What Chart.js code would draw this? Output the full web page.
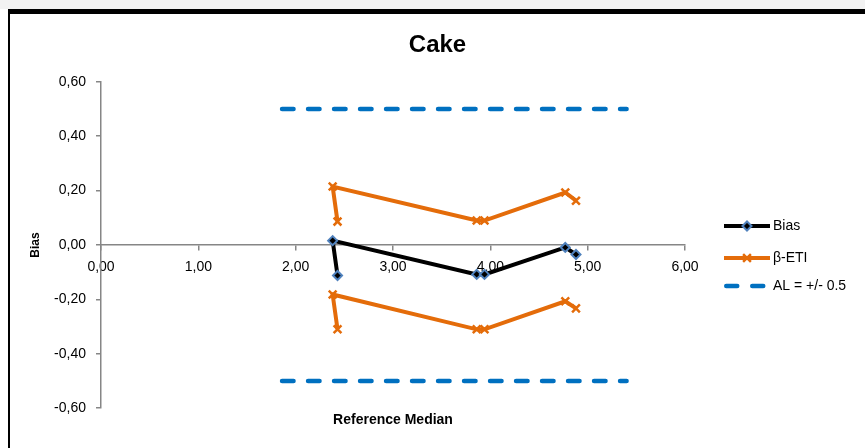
<!DOCTYPE html>
<html>
<head>
<meta charset="utf-8">
<script src="https://cdn.jsdelivr.net/npm/chart.js@4.4.1/dist/chart.umd.min.js"></script>
<style>
html, body { margin: 0; padding: 0; background: #fff; }
#wrap { width: 865px; height: 448px; }
</style>
</head>
<body>
<div id="wrap"><canvas id="chart" width="865" height="448"></canvas></div>
<script>
// values
var refMedian = [2.43, 2.38, 3.86, 3.94, 4.77, 4.88];
var bias = [-0.112, 0.016, -0.108, -0.108, -0.009, -0.035];
var etiUpper = [0.086, 0.215, 0.090, 0.090, 0.193, 0.163];
var etiLower = [-0.310, -0.182, -0.310, -0.310, -0.207, -0.233];
var limitX = [1.86, 5.40];
var limitUpper = [0.5, 0.5];
var limitLower = [-0.5, -0.5];
var xTicks = [0, 1, 2, 3, 4, 5, 6];
var yTicks = [-0.6, -0.4, -0.2, 0, 0.2, 0.4, 0.6];

var FONT = "'Liberation Sans', Arial, sans-serif";
var AXIS = '#868686';

function points(xs, ys) {
    return xs.map(function (x, i) { return { x: x, y: ys[i] }; });
}
function comma(v) {
    return Number(v).toFixed(2).replace('.', ',');
}

// frame + custom legend (Excel style line-with-marker samples)
var frame = {
    id: 'frame',
    beforeDraw: function (chart) {
        var c = chart.ctx;
        c.save();
        c.fillStyle = '#fff';
        c.fillRect(0, 0, chart.width, chart.height);
        c.fillStyle = '#f2f2f2';
        c.fillRect(0, 0, chart.width, 9);
        c.fillStyle = '#000';
        c.fillRect(8, 9, chart.width - 8, 5);
        c.fillRect(8, 9, 2, chart.height - 9);
        c.restore();
    },
    afterDraw: function (chart) {
        var c = chart.ctx;
        var rows = [226, 258, 286];
        var x0 = 724, x1 = 770;
        var shown = chart.data.datasets.filter(function (d) { return !d.noLegend; });
        c.save();
        shown.forEach(function (ds, i) {
            var y = rows[i];
            var cap = ds.borderCapStyle || 'butt';
            var inset = cap === 'round' ? ds.borderWidth / 2 : 0;
            c.beginPath();
            c.strokeStyle = ds.borderColor;
            c.lineWidth = ds.borderWidth;
            c.lineCap = cap;
            c.setLineDash(ds.legendDash || []);
            c.moveTo(x0 + inset, y);
            c.lineTo(x1 - inset, y);
            c.stroke();
            c.setLineDash([]);
            if (ds.pointRadius > 0) {
                c.fillStyle = ds.pointBackgroundColor;
                c.strokeStyle = ds.pointBorderColor;
                c.lineWidth = ds.pointBorderWidth;
                Chart.helpers.drawPoint(c, {
                    pointStyle: ds.pointStyle,
                    radius: ds.pointRadius,
                    borderWidth: ds.pointBorderWidth
                }, (x0 + x1) / 2, y);
            }
            c.fillStyle = '#000';
            c.font = '14px ' + FONT;
            c.textBaseline = 'middle';
            c.fillText(ds.label, x1 + 3, y);
        });
        c.restore();
    }
};

var ctx = document.getElementById('chart').getContext('2d');
var chart = new Chart(ctx, {
    type: 'scatter',
    data: {
        datasets: [
            {
                label: 'Bias',
                data: points(refMedian, bias),
                showLine: true,
                borderColor: '#000',
                borderWidth: 4,
                pointStyle: 'rectRot',
                pointRadius: 4.5,
                pointBackgroundColor: '#000',
                pointBorderColor: '#4F81BD',
                pointBorderWidth: 2
            },
            {
                label: 'β-ETI',
                data: points(refMedian, etiUpper),
                showLine: true,
                borderColor: '#E46C0A',
                borderWidth: 4,
                pointStyle: 'crossRot',
                pointRadius: 5.5,
                pointBackgroundColor: '#E46C0A',
                pointBorderColor: '#E46C0A',
                pointBorderWidth: 2.5
            },
            {
                label: 'β-ETI',
                noLegend: true,
                data: points(refMedian, etiLower),
                showLine: true,
                borderColor: '#E46C0A',
                borderWidth: 4,
                pointStyle: 'crossRot',
                pointRadius: 5.5,
                pointBackgroundColor: '#E46C0A',
                pointBorderColor: '#E46C0A',
                pointBorderWidth: 2.5
            },
            {
                label: 'AL = +/- 0.5',
                data: points(limitX, limitUpper),
                showLine: true,
                borderColor: '#0070C0',
                borderWidth: 4.5,
                borderDash: [11.5, 14.5],
                legendDash: [11, 15],
                borderCapStyle: 'round',
                pointRadius: 0
            },
            {
                label: 'AL = +/- 0.5',
                noLegend: true,
                data: points(limitX, limitLower),
                showLine: true,
                borderColor: '#0070C0',
                borderWidth: 4.5,
                borderDash: [11.5, 14.5],
                borderCapStyle: 'round',
                pointRadius: 0
            }
        ]
    },
    options: {
        responsive: false,
        animation: false,
        layout: { padding: { left: 10, right: 0, top: 14, bottom: 19 } },
        plugins: {
            legend: { display: false },
            tooltip: { enabled: false },
            title: {
                display: true,
                text: 'Cake',
                color: '#000',
                font: { family: FONT, size: 24, weight: 'bold' },
                padding: { top: 17, bottom: 22 }
            }
        },
        scales: {
            x: {
                type: 'linear',
                position: { y: 0 },
                min: 0,
                max: 6,
                afterBuildTicks: function (s) { s.ticks = xTicks.map(function (v) { return { value: v }; }); },
                ticks: {
                    callback: comma,
                    color: '#000',
                    font: { family: FONT, size: 14 },
                    padding: 9,
                    maxRotation: 0,
                    autoSkip: false
                },
                grid: { display: true, drawOnChartArea: false, drawTicks: true, tickLength: 5, color: AXIS, lineWidth: 1.5 },
                border: { display: true, color: AXIS, width: 1.5 }
            },
            x2: {
                type: 'linear',
                position: 'bottom',
                min: 0,
                max: 6,
                ticks: { display: false },
                grid: { display: false, drawTicks: false },
                border: { display: false },
                title: {
                    display: true,
                    text: 'Reference Median',
                    color: '#000',
                    font: { family: FONT, size: 14, weight: 'bold' },
                    padding: { top: 4, bottom: 0 }
                }
            },
            y: {
                type: 'linear',
                position: 'left',
                min: -0.6,
                max: 0.6,
                afterBuildTicks: function (s) { s.ticks = yTicks.map(function (v) { return { value: v }; }); },
                afterFit: function (s) { s.width = 91; },
                ticks: {
                    callback: comma,
                    color: '#000',
                    font: { family: FONT, size: 14 },
                    padding: 10
                },
                grid: { display: true, drawOnChartArea: false, drawTicks: true, tickLength: 5, color: AXIS, lineWidth: 1.5 },
                border: { display: true, color: AXIS, width: 1.5 },
                title: {
                    display: true,
                    text: 'Bias',
                    color: '#000',
                    font: { family: FONT, size: 12, weight: 'bold' },
                    padding: { top: 18, bottom: 0 }
                }
            },
            yR: {
                type: 'linear',
                position: 'right',
                ticks: { display: false },
                grid: { display: false, drawTicks: false },
                border: { display: false },
                afterFit: function (s) { s.width = 180; }
            }
        }
    },
    plugins: [frame]
});
</script>
</body>
</html>
